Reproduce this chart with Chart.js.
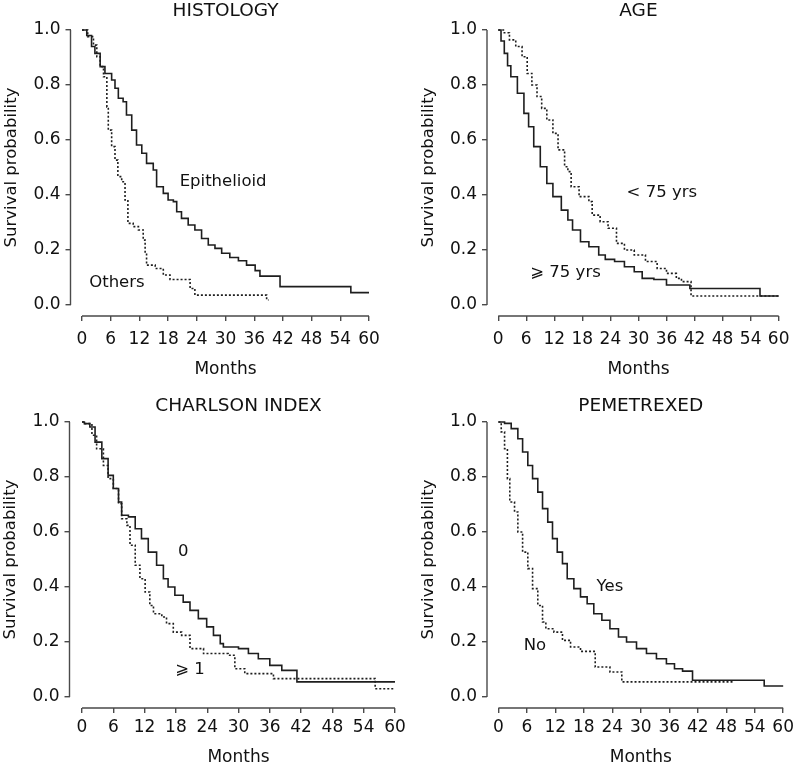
<!DOCTYPE html>
<html>
<head>
<meta charset="utf-8">
<script src="https://cdn.jsdelivr.net/npm/chart.js@4.4.0/dist/chart.umd.min.js"></script>
<style>
  html, body { margin: 0; padding: 0; background: #fff; overflow: hidden; }
  #wrap { position: relative; width: 798px; height: 768px; }
  canvas { position: absolute; }
</style>
</head>
<body>
<div id="wrap">
  <canvas id="histology" width="400" height="384" style="left:0px;top:0px;width:400px;height:384px"></canvas>
  <canvas id="charlson" width="420" height="384" style="left:0px;top:384px;width:420px;height:384px"></canvas>
  <canvas id="age" width="398" height="384" style="left:400px;top:0px;width:398px;height:384px"></canvas>
  <canvas id="pemetrexed" width="398" height="384" style="left:400px;top:384px;width:398px;height:384px"></canvas>
</div>
<script>
// axis ticks
const monthTicks = [0, 6, 12, 18, 24, 30, 36, 42, 48, 54, 60];
const probTicks = [0, 0.2, 0.4, 0.6, 0.8, 1.0];

// HISTOLOGY - epithelioid (solid)
const epiT = [0, 1.0, 2.0, 2.7, 3.8, 4.8, 6.2, 6.9, 7.6, 8.6, 9.3, 10.4, 11.4, 12.5, 13.5, 14.9, 15.6, 17.0, 18.0, 19.1, 19.8, 20.8, 22.2, 23.6, 25.0, 26.4, 27.8, 29.2, 30.9, 32.7, 34.4, 36.2, 37.2, 41.4, 56.2, 60];
const epiS = [1, 0.98, 0.94, 0.915, 0.867, 0.842, 0.818, 0.788, 0.752, 0.739, 0.691, 0.636, 0.582, 0.552, 0.515, 0.491, 0.43, 0.406, 0.382, 0.376, 0.339, 0.315, 0.291, 0.273, 0.242, 0.218, 0.206, 0.188, 0.173, 0.161, 0.145, 0.125, 0.105, 0.067, 0.045, 0.045];
// HISTOLOGY - others (dotted)
const othT = [0, 1.2, 2.4, 3.1, 3.8, 4.5, 5.2, 5.5, 6.2, 6.9, 7.5, 8.3, 9.0, 9.6, 10.7, 11.8, 12.8, 13.2, 13.5, 15.3, 17.0, 18.4, 22.6, 23.6, 38.6, 39.0];
const othS = [1, 0.976, 0.945, 0.903, 0.867, 0.83, 0.72, 0.636, 0.576, 0.527, 0.467, 0.448, 0.382, 0.297, 0.285, 0.273, 0.236, 0.188, 0.145, 0.133, 0.109, 0.093, 0.06, 0.036, 0.018, 0.018];

// AGE - >= 75 yrs (solid)
const oldT = [0, 0.6, 1.3, 2.0, 2.7, 4.1, 5.5, 6.5, 7.6, 9.0, 10.4, 11.7, 13.5, 14.9, 15.9, 17.6, 19.4, 21.5, 22.9, 24.9, 27.0, 29.1, 30.8, 33.3, 36.0, 41.0, 56.0, 60];
const oldS = [1, 0.96, 0.915, 0.87, 0.83, 0.77, 0.697, 0.648, 0.576, 0.503, 0.442, 0.394, 0.345, 0.309, 0.273, 0.23, 0.212, 0.182, 0.166, 0.158, 0.139, 0.121, 0.097, 0.093, 0.073, 0.06, 0.033, 0.033];
// AGE - < 75 yrs (dotted)
const youngT = [0, 1.3, 2.4, 3.75, 5.1, 6.2, 7.2, 8.3, 9.3, 10.4, 11.7, 12.8, 14.2, 14.9, 15.6, 17.3, 19.4, 20.1, 21.8, 23.5, 25.3, 27.0, 29.1, 31.5, 34.0, 36.0, 38.1, 39.2, 41.25, 60];
const youngS = [1, 0.99, 0.964, 0.94, 0.903, 0.842, 0.8, 0.758, 0.715, 0.673, 0.624, 0.564, 0.503, 0.485, 0.43, 0.394, 0.376, 0.327, 0.303, 0.279, 0.224, 0.2, 0.182, 0.158, 0.133, 0.115, 0.097, 0.085, 0.033, 0.033];

// CHARLSON INDEX - 0 (solid)
const ch0T = [0, 0.45, 1.5, 2.5, 3.8, 5.0, 6.0, 7.0, 7.6, 8.9, 10.2, 11.4, 12.7, 14.3, 15.6, 16.5, 17.8, 19.4, 20.7, 22.3, 23.9, 25.2, 26.5, 27.1, 30.0, 31.9, 33.8, 36.0, 38.3, 41.2, 60];
const ch0S = [1, 0.994, 0.982, 0.927, 0.867, 0.806, 0.758, 0.709, 0.661, 0.655, 0.612, 0.576, 0.527, 0.479, 0.43, 0.4, 0.37, 0.345, 0.315, 0.285, 0.255, 0.224, 0.194, 0.182, 0.176, 0.158, 0.139, 0.115, 0.097, 0.055, 0.055];
// CHARLSON INDEX - >= 1 (dotted)
const ch1T = [0, 0.45, 1.9, 2.8, 4.1, 5.0, 6.0, 7.0, 7.6, 8.6, 9.2, 10.2, 11.1, 12.1, 13.0, 13.7, 15.3, 16.2, 17.5, 19.1, 20.7, 23.3, 28.0, 29.3, 31.2, 36.7, 56.2, 60];
const ch1S = [1, 0.994, 0.952, 0.903, 0.842, 0.794, 0.758, 0.703, 0.648, 0.624, 0.552, 0.479, 0.43, 0.382, 0.333, 0.303, 0.291, 0.267, 0.236, 0.224, 0.176, 0.158, 0.152, 0.103, 0.085, 0.067, 0.03, 0.03];

// PEMETREXED - yes (solid)
const yesT = [0, 1.3, 2.7, 4.1, 5.1, 6.2, 7.2, 8.3, 9.3, 10.4, 11.4, 12.4, 13.5, 14.5, 15.9, 17.3, 18.7, 20.1, 21.8, 23.5, 25.3, 27.0, 29.1, 31.2, 33.3, 35.4, 37.1, 38.8, 40.9, 56.0, 60];
const yesS = [1, 0.995, 0.976, 0.939, 0.891, 0.842, 0.794, 0.745, 0.685, 0.636, 0.576, 0.527, 0.485, 0.43, 0.394, 0.364, 0.339, 0.303, 0.279, 0.248, 0.218, 0.2, 0.176, 0.158, 0.139, 0.121, 0.103, 0.094, 0.061, 0.04, 0.04];
// PEMETREXED - no (dotted)
const noT = [0, 0.6, 1.3, 1.9, 2.4, 3.4, 4.1, 5.1, 6.2, 7.2, 8.3, 9.3, 10.0, 11.7, 13.5, 15.2, 17.3, 20.4, 23.5, 26.0, 49.6];
const noS = [1, 0.964, 0.903, 0.794, 0.709, 0.673, 0.6, 0.527, 0.467, 0.394, 0.333, 0.273, 0.248, 0.236, 0.206, 0.182, 0.166, 0.109, 0.091, 0.055, 0.055];

const INK = '#111';
const AXIS = '#4a4a4a';
const FONT = 'DejaVu Sans';

Chart.defaults.font.family = FONT;
Chart.defaults.font.size = 17;
Chart.defaults.color = INK;

const pts = (t, s) => t.map((v, i) => ({ x: v, y: s[i] }));

// R style detached axes: line only from first to last tick
const rAxes = {
  id: 'rAxes',
  afterDraw(chart) {
    const { ctx, chartArea, scales: { x, y } } = chart;
    ctx.save();
    ctx.strokeStyle = AXIS;
    ctx.lineWidth = 1.4;
    ctx.beginPath();
    ctx.moveTo(x.getPixelForValue(0), chartArea.bottom);
    ctx.lineTo(x.getPixelForValue(60), chartArea.bottom);
    ctx.moveTo(chartArea.left, y.getPixelForValue(0));
    ctx.lineTo(chartArea.left, y.getPixelForValue(1));
    ctx.stroke();
    ctx.restore();
  }
};

const panelText = {
  id: 'panelText',
  afterDraw(chart, args, opts) {
    const { ctx, scales: { x, y } } = chart;
    ctx.save();
    ctx.fillStyle = INK;
    ctx.textAlign = 'center';
    ctx.textBaseline = 'middle';
    ctx.font = '18.5px "' + FONT + '"';
    ctx.fillText(opts.title, x.getPixelForValue(30), y.getPixelForValue(1) - opts.titleGap);
    ctx.font = '16.5px "' + FONT + '"';
    opts.labels.forEach(l => {
      ctx.fillText(l.text, x.getPixelForValue(l.x), y.getPixelForValue(l.y));
    });
    ctx.restore();
  }
};

function makePanel(id, cfg) {
  const tickGrid = { drawOnChartArea: false, drawTicks: true, tickLength: 5, color: AXIS, lineWidth: 1.4 };
  return new Chart(document.getElementById(id), {
    type: 'line',
    data: {
      datasets: cfg.series.map(s => ({
        data: s.data,
        borderColor: '#1e1e1e',
        borderWidth: 1.6,
        borderDash: s.dotted ? [2, 2] : [],
        stepped: true,
        pointRadius: 0,
        fill: false
      }))
    },
    options: {
      responsive: false,
      animation: false,
      layout: { padding: { left: 0, right: cfg.padRight, top: cfg.padTop, bottom: 0 } },
      plugins: {
        legend: { display: false },
        tooltip: { enabled: false },
        panelText: { title: cfg.title, titleGap: cfg.titleGap, labels: cfg.labels }
      },
      scales: {
        x: {
          type: 'linear',
          bounds: 'data',
          min: -2.4,
          max: 62.4,
          afterBuildTicks: s => { s.ticks = monthTicks.map(v => ({ value: v })); },
          afterFit: s => { s.height = cfg.xHeight; },
          grid: tickGrid,
          border: { display: false },
          ticks: { padding: cfg.xTickPad, maxRotation: 0, autoSkip: false, color: INK },
          title: { display: true, text: 'Months', color: INK, padding: { top: 0, bottom: cfg.monthsPad } }
        },
        y: {
          type: 'linear',
          bounds: 'data',
          min: -0.04,
          max: 1.04,
          afterBuildTicks: s => { s.ticks = probTicks.map(v => ({ value: v })); },
          afterFit: s => { s.width = cfg.yWidth; },
          grid: tickGrid,
          border: { display: false },
          ticks: { padding: 5, color: INK, callback: v => v.toFixed(1) },
          title: { display: true, text: 'Survival probability', color: INK, font: { size: 16.5 }, padding: { top: cfg.yTitlePad, bottom: 0 } }
        }
      }
    },
    plugins: [rAxes, panelText]
  });
}

makePanel('histology', {
  title: 'HISTOLOGY', titleGap: 19,
  padTop: 19, padRight: 19.5, yWidth: 70.5, xHeight: 68, xTickPad: 8.5, monthsPad: 4.5, yTitlePad: 2,
  series: [{ data: pts(epiT, epiS) }, { data: pts(othT, othS), dotted: true }],
  labels: [{ text: 'Epithelioid', x: 29.5, y: 0.447 }, { text: 'Others', x: 7.3, y: 0.08 }]
});

makePanel('age', {
  title: 'AGE', titleGap: 19,
  padTop: 19, padRight: 0, yWidth: 87, xHeight: 68, xTickPad: 8.5, monthsPad: 4.5, yTitlePad: 19,
  series: [{ data: pts(oldT, oldS) }, { data: pts(youngT, youngS), dotted: true }],
  labels: [{ text: '< 75 yrs', x: 35, y: 0.407 }, { text: '\u2A7E 75 yrs', x: 14.4, y: 0.116 }]
});

makePanel('charlson', {
  title: 'CHARLSON INDEX', titleGap: 16,
  padTop: 27, padRight: 12.5, yWidth: 69.5, xHeight: 60, xTickPad: 4, monthsPad: 0, yTitlePad: 1,
  series: [{ data: pts(ch0T, ch0S) }, { data: pts(ch1T, ch1S), dotted: true }],
  labels: [{ text: '0', x: 19.4, y: 0.53 }, { text: '\u2A7E 1', x: 20.7, y: 0.098 }]
});

makePanel('pemetrexed', {
  title: 'PEMETREXED', titleGap: 16,
  padTop: 27, padRight: 0, yWidth: 87, xHeight: 60, xTickPad: 4, monthsPad: 0, yTitlePad: 19,
  series: [{ data: pts(yesT, yesS) }, { data: pts(noT, noS), dotted: true }],
  labels: [{ text: 'Yes', x: 23.5, y: 0.4 }, { text: 'No', x: 7.7, y: 0.185 }]
});
</script>
</body>
</html>
